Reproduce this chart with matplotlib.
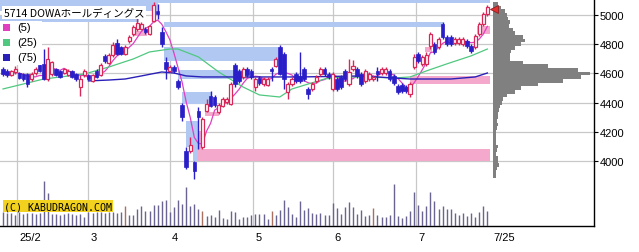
import numpy as np
import pandas as pd
import matplotlib
matplotlib.use('Agg')
import matplotlib.pyplot as plt
from matplotlib.patches import Rectangle

# daily candles (yen)
opens = [4630, 4615, 4590, 4610, 4605, 4595, 4595, 4560, 4605, 4660,
         4665, 4560, 4595, 4630, 4615, 4605, 4590, 4615, 4595, 4510,
         4590, 4590, 4550, 4615, 4590, 4720, 4670, 4725, 4810, 4780,
         4735, 4820, 4870, 4905, 4905, 4905, 4870, 4960, 5025, 4885,
         4680, 4615, 4645, 4550, 4385, 4070, 4070, 3995, 4345, 4100,
         4345, 4445, 4440, 4335, 4380, 4405, 4390, 4660, 4615, 4575,
         4630, 4615, 4510, 4570, 4530, 4520, 4630, 4650, 4780, 4735,
         4475, 4530, 4595, 4585, 4630, 4495, 4495, 4550, 4595, 4630,
         4595, 4495, 4560, 4575, 4615, 4530, 4630, 4630, 4595, 4550,
         4560, 4560, 4615, 4605, 4605, 4615, 4585, 4515, 4520, 4510,
         4460, 4645, 4735, 4665, 4665, 4790, 4800, 4780, 4940, 4850,
         4850, 4810, 4810, 4800, 4820, 4790, 4780, 4870, 4940, 5005]
highs = [4645, 4630, 4625, 4650, 4610, 4605, 4605, 4610, 4645, 4670,
         4765, 4780, 4685, 4640, 4625, 4640, 4630, 4625, 4605, 4590,
         4630, 4595, 4595, 4630, 4670, 4735, 4740, 4815, 4835, 4790,
         4795, 4865, 4930, 4985, 4950, 4920, 4930, 5090, 5075, 4920,
         4715, 4660, 4660, 4560, 4400, 4095, 4165, 4000, 4370, 4300,
         4425, 4480, 4455, 4400, 4440, 4440, 4540, 4670, 4630, 4645,
         4645, 4630, 4575, 4585, 4575, 4575, 4645, 4715, 4795, 4745,
         4540, 4575, 4610, 4745, 4645, 4510, 4540, 4590, 4645, 4645,
         4610, 4610, 4575, 4590, 4630, 4700, 4690, 4645, 4610, 4630,
         4610, 4590, 4645, 4645, 4645, 4630, 4595, 4530, 4535, 4520,
         4540, 4735, 4745, 4725, 4745, 4885, 4815, 4850, 4950, 4865,
         4865, 4850, 4850, 4850, 4835, 4800, 4870, 4950, 5020, 5070]
lows = [4585, 4575, 4585, 4595, 4560, 4550, 4505, 4550, 4590, 4610,
        4555, 4550, 4585, 4585, 4570, 4595, 4585, 4570, 4550, 4445,
        4575, 4555, 4540, 4570, 4585, 4670, 4665, 4715, 4725, 4725,
        4725, 4810, 4855, 4890, 4895, 4870, 4865, 4950, 4975, 4780,
        4560, 4610, 4605, 4495, 4275, 3945, 4055, 3880, 4085, 4085,
        4335, 4370, 4370, 4325, 4370, 4390, 4385, 4510, 4535, 4560,
        4575, 4560, 4480, 4520, 4515, 4515, 4550, 4645, 4590, 4495,
        4425, 4515, 4535, 4535, 4550, 4425, 4480, 4535, 4585, 4585,
        4560, 4480, 4480, 4495, 4550, 4515, 4615, 4570, 4515, 4535,
        4550, 4550, 4550, 4590, 4590, 4550, 4520, 4460, 4465, 4465,
        4440, 4630, 4670, 4650, 4650, 4765, 4735, 4765, 4835, 4790,
        4790, 4795, 4795, 4790, 4775, 4740, 4765, 4855, 4925, 4995]
closes = [4595, 4590, 4615, 4630, 4570, 4560, 4530, 4595, 4630, 4615,
          4560, 4700, 4680, 4590, 4575, 4630, 4615, 4575, 4560, 4560,
          4615, 4560, 4590, 4575, 4660, 4685, 4725, 4795, 4735, 4735,
          4780, 4850, 4920, 4945, 4940, 4885, 4925, 5070, 5005, 4800,
          4630, 4645, 4615, 4510, 4300, 3960, 4110, 3935, 4300, 4290,
          4390, 4380, 4385, 4385, 4425, 4425, 4530, 4530, 4550, 4630,
          4590, 4575, 4560, 4535, 4560, 4560, 4615, 4700, 4595, 4560,
          4530, 4560, 4550, 4550, 4560, 4460, 4530, 4575, 4630, 4595,
          4575, 4595, 4495, 4510, 4560, 4610, 4650, 4585, 4530, 4615,
          4595, 4575, 4595, 4630, 4630, 4560, 4535, 4475, 4480, 4480,
          4530, 4715, 4685, 4715, 4725, 4870, 4745, 4835, 4850, 4800,
          4800, 4835, 4835, 4835, 4790, 4755, 4855, 4940, 5005, 5055]
volumes = [14, 13, 13, 11, 14, 12, 13, 13, 12, 13,
           46, 33, 12, 12, 11, 12, 13, 12, 11, 12,
           9, 14, 13, 14, 14, 13, 14, 14, 13, 14,
           20, 11, 11, 17, 20, 15, 15, 21, 21, 25,
           26, 14, 19, 26, 22, 40, 20, 22, 17, 15,
           10, 11, 9, 16, 8, 7, 15, 14, 7, 9,
           9, 11, 12, 12, 12, 7, 15, 11, 16, 26,
           19, 12, 9, 25,
           16, 18, 13, 12, 13, 11, 11, 23, 18, 12,
           19, 24, 19, 12, 16, 10, 11, 18, 11, 9,
           9, 11, 43, 10, 8, 10, 15, 34, 21, 15,
           20, 34, 25, 17, 20, 17, 17, 13, 11, 13,
           10, 13, 9, 14, 20, 15]
brown_days = [30, 49, 66, 91]

# 25 / 75 day averages read at a few days
ma25_day = [0, 10, 20, 26, 32, 36, 41, 43, 48, 53, 59, 63, 68, 71, 75, 79,
            83, 89, 96, 100, 104, 109, 115, 119]
ma25_val = [4494, 4562, 4596, 4644, 4699, 4747, 4767, 4767, 4713, 4610, 4507,
            4453, 4439, 4494, 4528, 4562, 4576, 4576, 4569, 4576, 4617, 4665,
            4720, 4767]
ma75_day = [21, 26, 30, 34, 39, 42, 45, 49, 59, 73, 88, 100, 110, 116, 119]
ma75_val = [4549, 4555, 4562, 4583, 4610, 4603, 4583, 4576, 4576, 4576, 4583,
            4562, 4562, 4576, 4603]

# price-by-volume (25 yen steps, 5075 down to 3900)
prof_price = np.arange(5075, 3899, -25)
prof_vol = [5, 8, 12, 14, 15, 17, 16, 20, 22, 30, 32, 28, 22, 18, 17, 17,
            30, 55, 85, 97, 88, 70, 45, 28, 22, 14, 10, 9, 7, 6, 5, 5,
            4, 5, 4, 3, 3, 3, 3, 5, 4, 3, 5, 5, 6, 4, 3, 3]

# open gaps: (first day, last day, low, high)
gaps_down = [(-1, 119.6, 5080, 5115), (-1, 38, 5030, 5080),
             (-1, 33.5, 4955, 4990), (39.5, 108, 4920, 4955),
             (39.6, 67.5, 4685, 4780), (43, 60, 4562, 4624),
             (44, 51, 4391, 4473), (45, 48, 4097, 4275), (46.7, 48, 4000, 4097)]
gaps_up = [(47.9, 119.6, 4000, 4083), (47.9, 49.1, 4083, 4207),
           (49.6, 53, 4309, 4336), (32, 35.4, 4856, 4890),
           (100, 119.6, 4528, 4583), (116.5, 119.6, 4870, 4925),
           (103.7, 105.4, 4747, 4781)]

month_pos = [3.5, 21, 41, 61.5, 81, 101.5]
month_lbl = ['25/2', '3', '4', '5', '6', '7']
last_lbl = '7/25'
price_ticks = [4000, 4200, 4400, 4600, 4800, 5000]

UP = '#d8285a'
DOWN = '#2a1ec8'
C5, C25, C75 = '#e040c0', '#50c880', '#2a20b8'

plt.rcParams['font.family'] = ['Liberation Sans', 'DejaVu Sans']

fig = plt.figure(figsize=(6.39, 2.53), dpi=100)
rect = [0, 26 / 253, 594 / 639, 227 / 253]
ax = fig.add_axes(rect)
n = len(closes)
xlo, xhi = -0.74, 145.2
ax.set_xlim(xlo, xhi)
ax.set_ylim(3557, 5109)

for s in ['left', 'top']:
    ax.spines[s].set_visible(False)
ax.spines['right'].set_linewidth(1)
ax.spines['bottom'].set_linewidth(1)

ax.set_yticks(price_ticks)
ax.yaxis.tick_right()
ax.tick_params(axis='y', length=3, width=0.8, labelsize=8, pad=1)
ax.set_xticks([])
for p in price_ticks:
    ax.axhline(p, color='#c8c8c8', lw=0.9, zorder=0)
for m in month_pos:
    ax.axvline(m, color='#c8c8c8', lw=0.9, zorder=0)

for a, b, lo, hi in gaps_down:
    ax.add_patch(Rectangle((a, lo), b - a, hi - lo, color='#b0c8f2', lw=0, zorder=1))
for a, b, lo, hi in gaps_up:
    ax.add_patch(Rectangle((a, lo), b - a, hi - lo, color='#f4a8cc', lw=0, zorder=1))

# volume profile
ax.barh(prof_price, np.array(prof_vol) / 4.07, height=25, left=120.4,
        color='#808080', lw=0, zorder=1)

ma5 = pd.Series(closes).rolling(5, min_periods=1).mean()
ax.plot(range(n), ma5, color=C5, lw=0.9, zorder=3)
ax.plot(ma25_day, ma25_val, color=C25, lw=0.9, zorder=3)
ax.plot(ma75_day, ma75_val, color=C75, lw=1.0, zorder=3)

for i in range(n):
    o, h, l, c = opens[i], highs[i], lows[i], closes[i]
    col = UP if c >= o else DOWN
    ax.vlines(i, l, h, color=col, lw=1, zorder=4)
    lo_b = min(o, c)
    hb = max(abs(c - o), 6)
    if c >= o:
        ax.add_patch(Rectangle((i - 0.38, lo_b), 0.76, hb, facecolor='white',
                               edgecolor=col, lw=0.9, zorder=5))
    else:
        ax.add_patch(Rectangle((i - 0.44, lo_b), 0.88, hb, facecolor=col,
                               edgecolor=col, lw=0.5, zorder=5))

ax.plot([120.7], [closes[-1] - 15], marker='<', ms=6, color='#e03030',
        mec='#902020', mew=0.6, zorder=6, clip_on=False)

# volume pane
axv = fig.add_axes(rect)
axv.patch.set_alpha(0)
axv.set_xlim(xlo, xhi)
axv.set_ylim(0, 230)
axv.axis('off')
vcol = ['#a87060' if i in brown_days else '#6a6490' for i in range(n)]
axv.vlines(range(n), 0, volumes, colors=vcol, lw=1)

# date labels
for m, t in zip(month_pos, month_lbl):
    ax.text(m + 0.5, -0.025, t, transform=ax.get_xaxis_transform(),
            ha='left', va='top', fontsize=8)
ax.text(120.6, -0.025, last_lbl, transform=ax.get_xaxis_transform(),
        ha='left', va='top', fontsize=8)

# title box and legend
fig.text(4 / 639, 1 - 13.5 / 253, '5714 DOWAホールディングス',
         family=['Noto Sans CJK JP', 'DejaVu Sans'], fontsize=7.6,
         va='center', ha='left',
         bbox=dict(facecolor='white', edgecolor='none', pad=1.2), zorder=10)
fig.patches.append(Rectangle((0, 1 - 66 / 253), 42 / 639, 44 / 253,
                             transform=fig.transFigure, facecolor='white',
                             edgecolor='none', zorder=9))
for k, (col, lab) in enumerate([(C5, '(5)'), (C25, '(25)'), (C75, '(75)')]):
    yc = 28 + 15 * k
    fig.patches.append(Rectangle((3 / 639, 1 - (yc + 3.5) / 253), 7 / 639, 7 / 253,
                                 transform=fig.transFigure, facecolor=col,
                                 edgecolor='none', zorder=10))
    fig.text(17 / 639, 1 - yc / 253, lab, fontsize=8, va='center', ha='left',
             zorder=11)

fig.text(4 / 639, 1 - 207 / 253, '(C) KABUDRAGON.COM', family='DejaVu Sans Mono',
         fontsize=7.2, va='center', ha='left',
         bbox=dict(facecolor='#f2d21e', edgecolor='none', pad=1.0), zorder=10)

fig.savefig('out.png', dpi=100)
